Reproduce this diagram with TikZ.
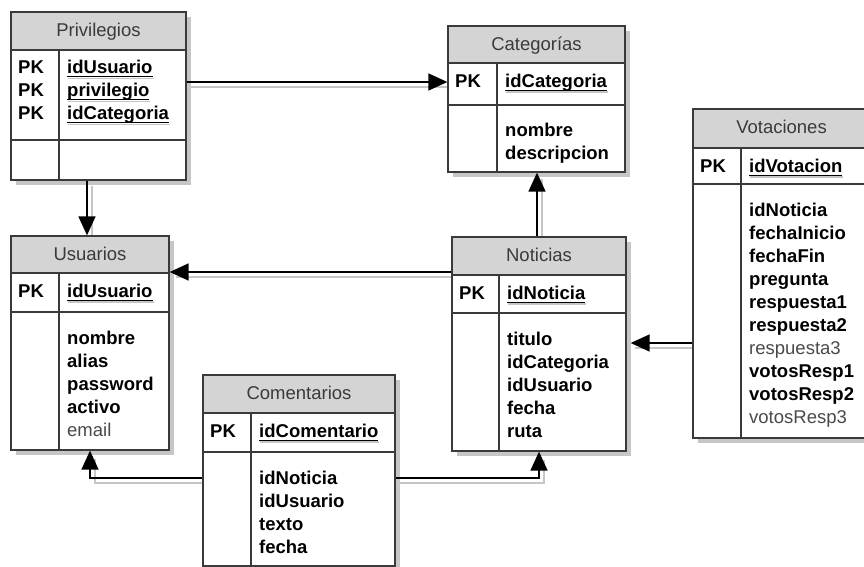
\documentclass[tikz,border=0pt]{standalone}
\usepackage{fontspec}
\setmainfont{Liberation Sans}
\usetikzlibrary{arrows.meta,fit}

\definecolor{frame}{HTML}{3A3A3A}
\definecolor{headfill}{HTML}{D4D4D4}
\definecolor{shadowgray}{HTML}{C6C6C6}
\definecolor{titlegray}{HTML}{3A3A3A}
\definecolor{litegray}{HTML}{4A4A4A}

\newcommand\rowfont{\fontsize{18.5}{23}\selectfont\bfseries}
\newcommand\titlefont{\fontsize{18.5}{23}\selectfont}
\newcommand\fieldlist[1]{\begin{tabular}[t]{@{}l@{}}#1\end{tabular}}
% primary key: black underline with a soft grey shadow line
\newcommand\pkey[1]{\setbox0=\hbox{#1}%
  \rlap{\hspace{1pt}\textcolor{shadowgray}{\rule[-5.2pt]{\wd0}{1.6pt}}}%
  \rlap{\rule[-3.4pt]{\wd0}{1.3pt}}\box0}
\newcommand\lite[1]{{\mdseries\color{litegray}#1}}

\tikzset{
  headbox/.style={draw=frame, fill=headfill, line width=1.3pt, inner sep=0pt},
  tablebox/.style={draw=frame, line width=1.3pt, inner sep=0pt},
  rule/.style={draw=frame, line width=1.3pt},
  titletext/.style={anchor=base, inner sep=0pt, font=\titlefont, text=titlegray},
  keycol/.style={anchor=base west, inner sep=0pt, font=\rowfont},
  conn/.style={draw=black, line width=1.6pt},
  connshade/.style={draw=shadowgray, line width=1.4pt},
  arrowed/.style={-{Triangle[width=17pt,length=19pt]}},
}

% #1 name, #2 left, #3 top, #4 right, #5 bottom,
% #6 column divider x, #7 header bottom, #8 key section bottom, #9 title
\newcommand\ertable[9]{%
  \fill[shadowgray] ({#2+5},{#3+5}) rectangle ({#4+5},{#5+5});
  \fill[white] (#2,#3) rectangle (#4,#5);
  \node[headbox, fit={(#2,#3) (#4,#7)}] (#1-head) {};
  \node[titletext] (#1-title) at ({(#2+#4)/2},{#3+24.5}) {#9};
  \draw[rule] (#2,#8) -- (#4,#8);
  \draw[rule] (#6,#7) -- (#6,#5);
  \node[tablebox, fit={(#2,#3) (#4,#5)}] (#1) {};
}

\begin{document}
\begin{tikzpicture}[x=1pt,y=-1pt]
\useasboundingbox[fill=white] (0,0) rectangle (864,567);

% ---------------- tables ----------------
\ertable{priv}{11}{12}{186}{180}{59}{50}{140}{Privilegios}
\node[keycol] (priv-pk) at (18,74) {\fieldlist{PK\\PK\\PK}};
\node[keycol] (priv-key) at (67,74)
  {\fieldlist{\pkey{idUsuario}\\\pkey{privilegio}\\\pkey{idCategoria}}};

\ertable{cat}{448}{26}{625}{172}{497}{63}{105}{Categorías}
\node[keycol] (cat-pk) at (455,87.5) {PK};
\node[keycol] (cat-key) at (505,87.5) {\pkey{idCategoria}};
\node[keycol] (cat-fields) at (505,136) {\fieldlist{nombre\\descripcion}};

\ertable{vot}{693}{109}{870}{438}{741}{148}{184}{Votaciones}
\node[keycol] (vot-pk) at (700,172.5) {PK};
\node[keycol] (vot-key) at (749,172.5) {\pkey{idVotacion}};
\node[keycol] (vot-fields) at (749,216) {\fieldlist{idNoticia\\fechaInicio\\fechaFin\\
  pregunta\\respuesta1\\respuesta2\\\lite{respuesta3}\\votosResp1\\votosResp2\\\lite{votosResp3}}};

\ertable{usu}{11}{236}{169}{450}{59}{273}{312}{Usuarios}
\node[keycol] (usu-pk) at (18,297.5) {PK};
\node[keycol] (usu-key) at (67,297.5) {\pkey{idUsuario}};
\node[keycol] (usu-fields) at (67,344)
  {\fieldlist{nombre\\alias\\password\\activo\\\lite{email}}};

\ertable{not}{452}{237}{626}{451}{499}{275}{313}{Noticias}
\node[keycol] (not-pk) at (459,299.5) {PK};
\node[keycol] (not-key) at (507,299.5) {\pkey{idNoticia}};
\node[keycol] (not-fields) at (507,345)
  {\fieldlist{titulo\\idCategoria\\idUsuario\\fecha\\ruta}};

\ertable{com}{203}{375}{395}{566}{251}{413}{452}{Comentarios}
\node[keycol] (com-pk) at (210,437.5) {PK};
\node[keycol] (com-key) at (259,437.5) {\pkey{idComentario}};
\node[keycol] (com-fields) at (259,484)
  {\fieldlist{idNoticia\\idUsuario\\texto\\fecha}};

% ---------------- relationship shadows ----------------
\draw[connshade] (priv.east |- 0,87) -- (cat.west |- 0,87);
\draw[connshade] (priv.south -| 92,0) ++(0,5) -- (usu.north -| 92,0);
\draw[connshade] (not.west |- 0,277) -- ([xshift=6pt]usu.east |- 0,277);
\draw[connshade] (not.north -| 542,0) -- ([yshift=-6pt]cat.south -| 542,0);
\draw[connshade] (vot.west |- 0,348) -- ([xshift=8pt]not.east |- 0,348);
\draw[connshade] (com.west |- 0,483) -- (95,483) -- ([yshift=-8pt]usu.south -| 95,0);
\draw[connshade] (com.east |- 0,483) -- (544,483) -- ([yshift=-8pt]not.south -| 544,0);

% ---------------- relationships ----------------
\draw[conn, arrowed] (priv.east |- 0,82) -- (cat.west |- 0,82);
\draw[conn, arrowed] (priv.south -| 87,0) -- (usu.north -| 87,0);
\draw[conn, arrowed] (not.west |- 0,272) -- (usu.east |- 0,272);
\draw[conn, arrowed] (not.north -| 537,0) -- (cat.south -| 537,0);
\draw[conn, arrowed] (vot.west |- 0,343) -- ([xshift=4pt]not.east |- 0,343);
\draw[conn, arrowed] (com.west |- 0,478) -- (90,478) -- (usu.south -| 90,0);
\draw[conn, arrowed] (com.east |- 0,478) -- (539,478) -- (not.south -| 539,0);
\end{tikzpicture}
\end{document}
